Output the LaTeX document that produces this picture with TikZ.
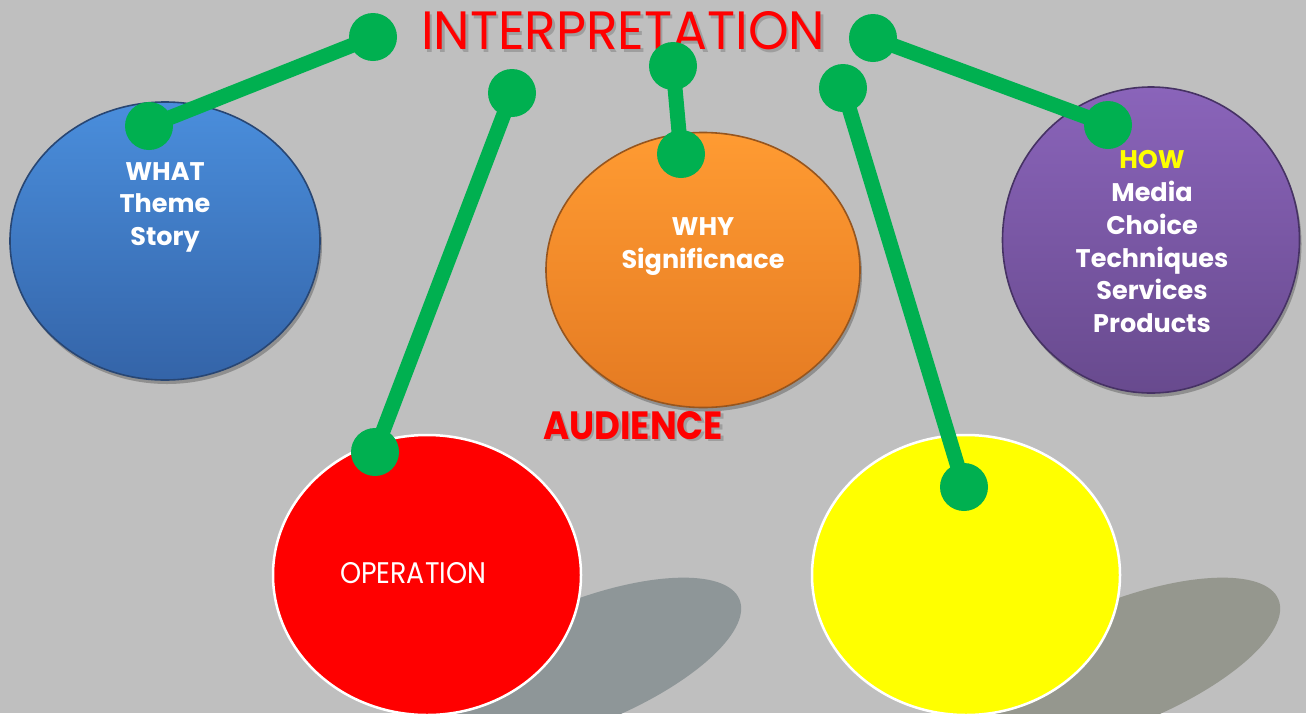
\documentclass[tikz,border=0pt]{standalone}
\usepackage{fontspec}
\setmainfont{Poppins}
\usetikzlibrary{shapes.geometric,shadows}

\definecolor{bg}{RGB}{191,191,191}
\definecolor{grn}{RGB}{0,176,80}
\definecolor{bluetop}{RGB}{74,142,220}
\definecolor{bluebot}{RGB}{52,100,168}
\definecolor{blueedge}{RGB}{40,70,115}
\definecolor{orgtop}{RGB}{255,155,50}
\definecolor{orgbot}{RGB}{228,122,34}
\definecolor{orgedge}{RGB}{150,85,30}
\definecolor{purtop}{RGB}{138,100,186}
\definecolor{purbot}{RGB}{104,74,142}
\definecolor{puredge}{RGB}{70,50,100}
\definecolor{shadowr}{RGB}{142,150,152}
\definecolor{shadowy}{RGB}{149,151,142}
\definecolor{pureyellow}{RGB}{255,255,0}
\definecolor{tshadow}{RGB}{158,158,158}

\newcommand{\shadowtext}[4]{% width, height, dx/dy shift, text
  \makebox[0pt][l]{\hspace{#3}\raisebox{-#3}{\textcolor{tshadow}{\resizebox{#1}{#2}{#4}}}}%
  \resizebox{#1}{#2}{#4}}

\begin{document}
\begin{tikzpicture}[x=1pt,y=-1pt,
  blob/.style={ellipse, inner sep=0pt, line width=1.6pt,
    drop shadow={shadow xshift=2pt, shadow yshift=-4pt, opacity=0.25, fill=black}},
  flatblob/.style={ellipse, inner sep=0pt, draw=white, line width=2.5pt},
  dot/.style={circle, fill=grn, minimum size=48pt, inner sep=0pt},
  wire/.style={draw=grn, line width=15pt},
  lbl/.style={anchor=base, text=white, inner sep=0pt, font=\fontsize{25.5}{30}\selectfont\bfseries},
  capt/.style={anchor=south west, inner sep=0pt},
]
\fill[bg] (0,0) rectangle (1306,713);
\useasboundingbox (0,0) rectangle (1306,713);
\clip (0,0) rectangle (1306,713);

% cast shadows of the flat ellipses
\fill[shadowr, rotate around={22:(580,664)}] (580,664) ellipse [x radius=172pt, y radius=62pt];
\fill[shadowy, rotate around={22:(1119,664)}] (1119,664) ellipse [x radius=172pt, y radius=62pt];

% ellipses
\node[blob, minimum width=310pt, minimum height=278pt, top color=bluetop, bottom color=bluebot, draw=blueedge] (what) at (165,241) {};
\node[blob, minimum width=314pt, minimum height=275pt, top color=orgtop, bottom color=orgbot, draw=orgedge] (why) at (703,270) {};
\node[blob, minimum width=297pt, minimum height=306pt, top color=purtop, bottom color=purbot, draw=puredge] (how) at (1151,240) {};
\node[flatblob, minimum width=308pt, minimum height=280pt, fill=red] (oper) at (427,575) {};
\node[flatblob, minimum width=308pt, minimum height=280pt, fill=pureyellow] (aud) at (966,575) {};

% title and AUDIENCE, with their soft shadows
\node[capt, text=red] (title) at (421,53) {\shadowtext{404pt}{38pt}{2.5pt}{INTERPRETATION}};
\node[capt, text=red] (audience) at (543,442) {\shadowtext{180pt}{28pt}{2.5pt}{\bfseries AUDIENCE}};

% OPERATION
\node[capt, text=white] (operation) at (340,584) {\resizebox{146pt}{21pt}{OPERATION}};

% labels
\node[lbl] (w1) at (165,180) {WHAT};
\node[lbl] (w2) at (165,212) {Theme};
\node[lbl] (w3) at (165,245) {Story};
\node[lbl] (y1) at (703,235) {WHY};
\node[lbl] (y2) at (703,268) {Significnace};
\node[lbl, text=pureyellow] (h1) at (1152,168) {HOW};
\node[lbl] (h2) at (1152,201) {Media};
\node[lbl] (h3) at (1152,234) {Choice};
\node[lbl] (h4) at (1152,267) {Techniques};
\node[lbl] (h5) at (1152,299) {Services};
\node[lbl] (h6) at (1152,332) {Products};

% connector end points
\coordinate (t1) at (373,37);
\coordinate (t2) at (512,93);
\coordinate (t3) at (673,66);
\coordinate (t4) at (843,88);
\coordinate (t5) at (873,38);
\coordinate (e1) at (149,126);
\coordinate (e2) at (375,452);
\coordinate (e3) at (681,154);
\coordinate (e4) at (964,487);
\coordinate (e5) at (1108,125);

\draw[wire] (t1) -- (e1);
\draw[wire] (t2) -- (e2);
\draw[wire] (t3) -- (e3);
\draw[wire] (t4) -- (e4);
\draw[wire] (t5) -- (e5);

\foreach \p in {t1,t2,t3,t4,t5,e1,e2,e3,e4,e5}
  \node[dot] (dot-\p) at (\p) {};
\end{tikzpicture}
\end{document}
